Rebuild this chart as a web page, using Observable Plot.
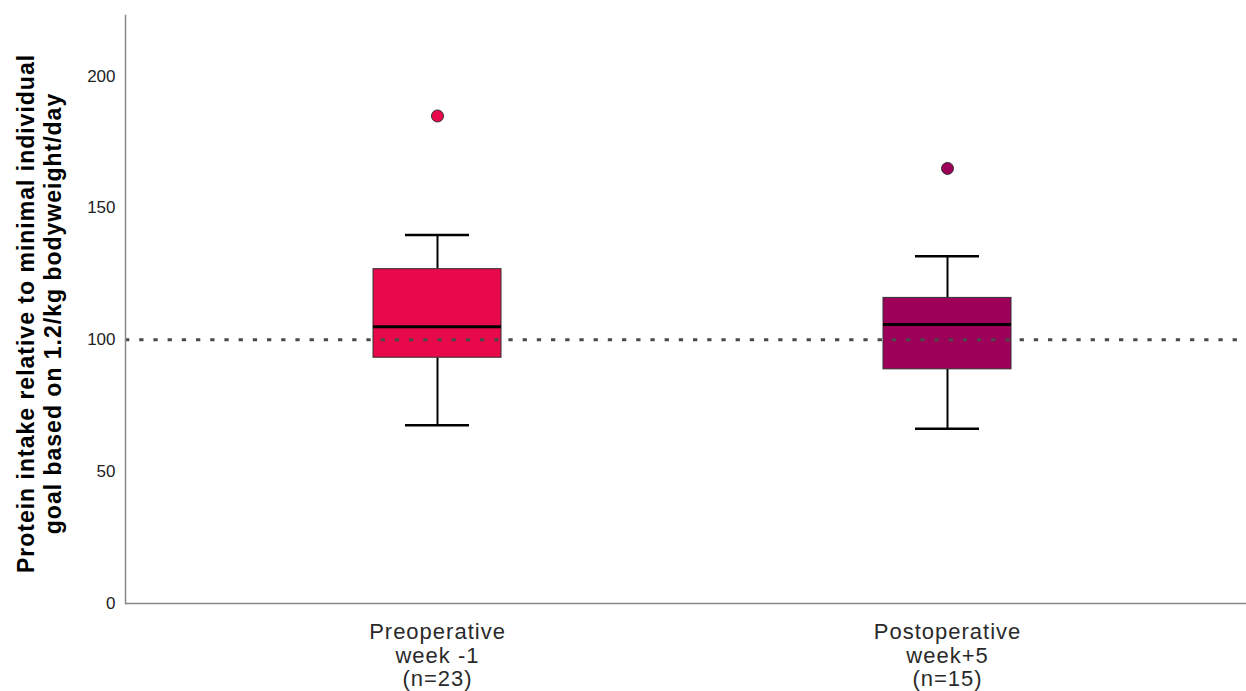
<!DOCTYPE html>
<html>
<head>
<meta charset="utf-8">
<script src="https://cdn.jsdelivr.net/npm/d3@7"></script>
<script src="https://cdn.jsdelivr.net/npm/@observablehq/plot@0.6"></script>
<style>
  html, body { margin: 0; padding: 0; background: #fff; overflow: hidden; }
  #chart svg g[aria-label="x-axis tick label"] text { letter-spacing: 1px; }
  #chart svg g.ytitle text { letter-spacing: 1px; }
</style>
</head>
<body>
<div id="chart"></div>
<script>
// ---- data ----
const categories = ["Preoperative week -1", "Postoperative week+5"];
const tickLabels = ["Preoperative\nweek -1\n(n=23)", "Postoperative\nweek+5\n(n=15)"];
const whiskerLow = [67.6, 66.3];
const q1 = [93.2, 88.8];
const median = [105.0, 105.8];
const q3 = [126.8, 115.9];
const whiskerHigh = [139.8, 131.7];
const outliers = [184.9, 165.0];
const referenceLine = [100];
const yTicks = [0, 50, 100, 150, 200];
const boxColors = ["#E8094A", "#9C0058"];
const yTitle = "Protein intake relative to minimal individual\ngoal based on 1.2/kg bodyweight/day";

const boxes = categories.map((c, i) => ({
  group: c, lo: whiskerLow[i], q1: q1[i], med: median[i], q3: q3[i], hi: whiskerHigh[i]
}));
const outlierData = categories.map((c, i) => ({group: c, value: outliers[i]}));

const chart = Plot.plot({
  width: 1246,
  height: 691,
  marginLeft: 125,
  marginRight: 0,
  marginTop: 15,
  marginBottom: 88,
  style: {fontFamily: "'Liberation Sans', Arial, sans-serif", background: "#fff"},
  x: {type: "band", domain: categories, range: [182, 1202], padding: 0},
  y: {domain: [0, 223]},
  color: {domain: categories, range: boxColors},
  marks: [
    Plot.axisY({ticks: yTicks, tickSize: 0, tickPadding: 10, fontSize: 17, fill: "#222", label: null}),
    Plot.axisX({tickSize: 0, tickPadding: 19, fontSize: 22, lineHeight: 1.07, fill: "#2a2a2a", label: null,
      tickFormat: (d) => tickLabels[categories.indexOf(d)]}),
    Plot.text([yTitle], {frameAnchor: "left", textAnchor: "middle", lineAnchor: "middle", rotate: -90,
      dx: -87, dy: 4, fontSize: 23, fontWeight: "bold", lineHeight: 1.18, fill: "#000", className: "ytitle"}),
    // whiskers
    Plot.ruleX(boxes, {x: "group", y1: "lo", y2: "q1", stroke: "#000", strokeWidth: 2}),
    Plot.ruleX(boxes, {x: "group", y1: "q3", y2: "hi", stroke: "#000", strokeWidth: 2}),
    Plot.tickY(boxes, {x: "group", y: "lo", stroke: "#000", strokeWidth: 2.5, insetLeft: 223, insetRight: 223}),
    Plot.tickY(boxes, {x: "group", y: "hi", stroke: "#000", strokeWidth: 2.5, insetLeft: 223, insetRight: 223}),
    // boxes
    Plot.barY(boxes, {x: "group", y1: "q1", y2: "q3", fill: "group", stroke: "#333", strokeWidth: 1,
      insetLeft: 191, insetRight: 191}),
    // reference line
    Plot.ruleY(referenceLine, {stroke: "#4a4a4a", strokeWidth: 3, strokeDasharray: "4.3,9.9"}),
    // medians
    Plot.tickY(boxes, {x: "group", y: "med", stroke: "#000", strokeWidth: 3, insetLeft: 191, insetRight: 191}),
    // outliers
    Plot.dot(outlierData, {x: "group", y: "value", r: 6, fill: "group", stroke: "#333", strokeWidth: 1}),
    // axis lines
    Plot.ruleY([0], {stroke: "#8a8a8a", strokeWidth: 1.5}),
    Plot.frame({anchor: "left", stroke: "#8a8a8a", strokeWidth: 1.5})
  ]
});
document.getElementById("chart").appendChild(chart);
</script>
</body>
</html>
